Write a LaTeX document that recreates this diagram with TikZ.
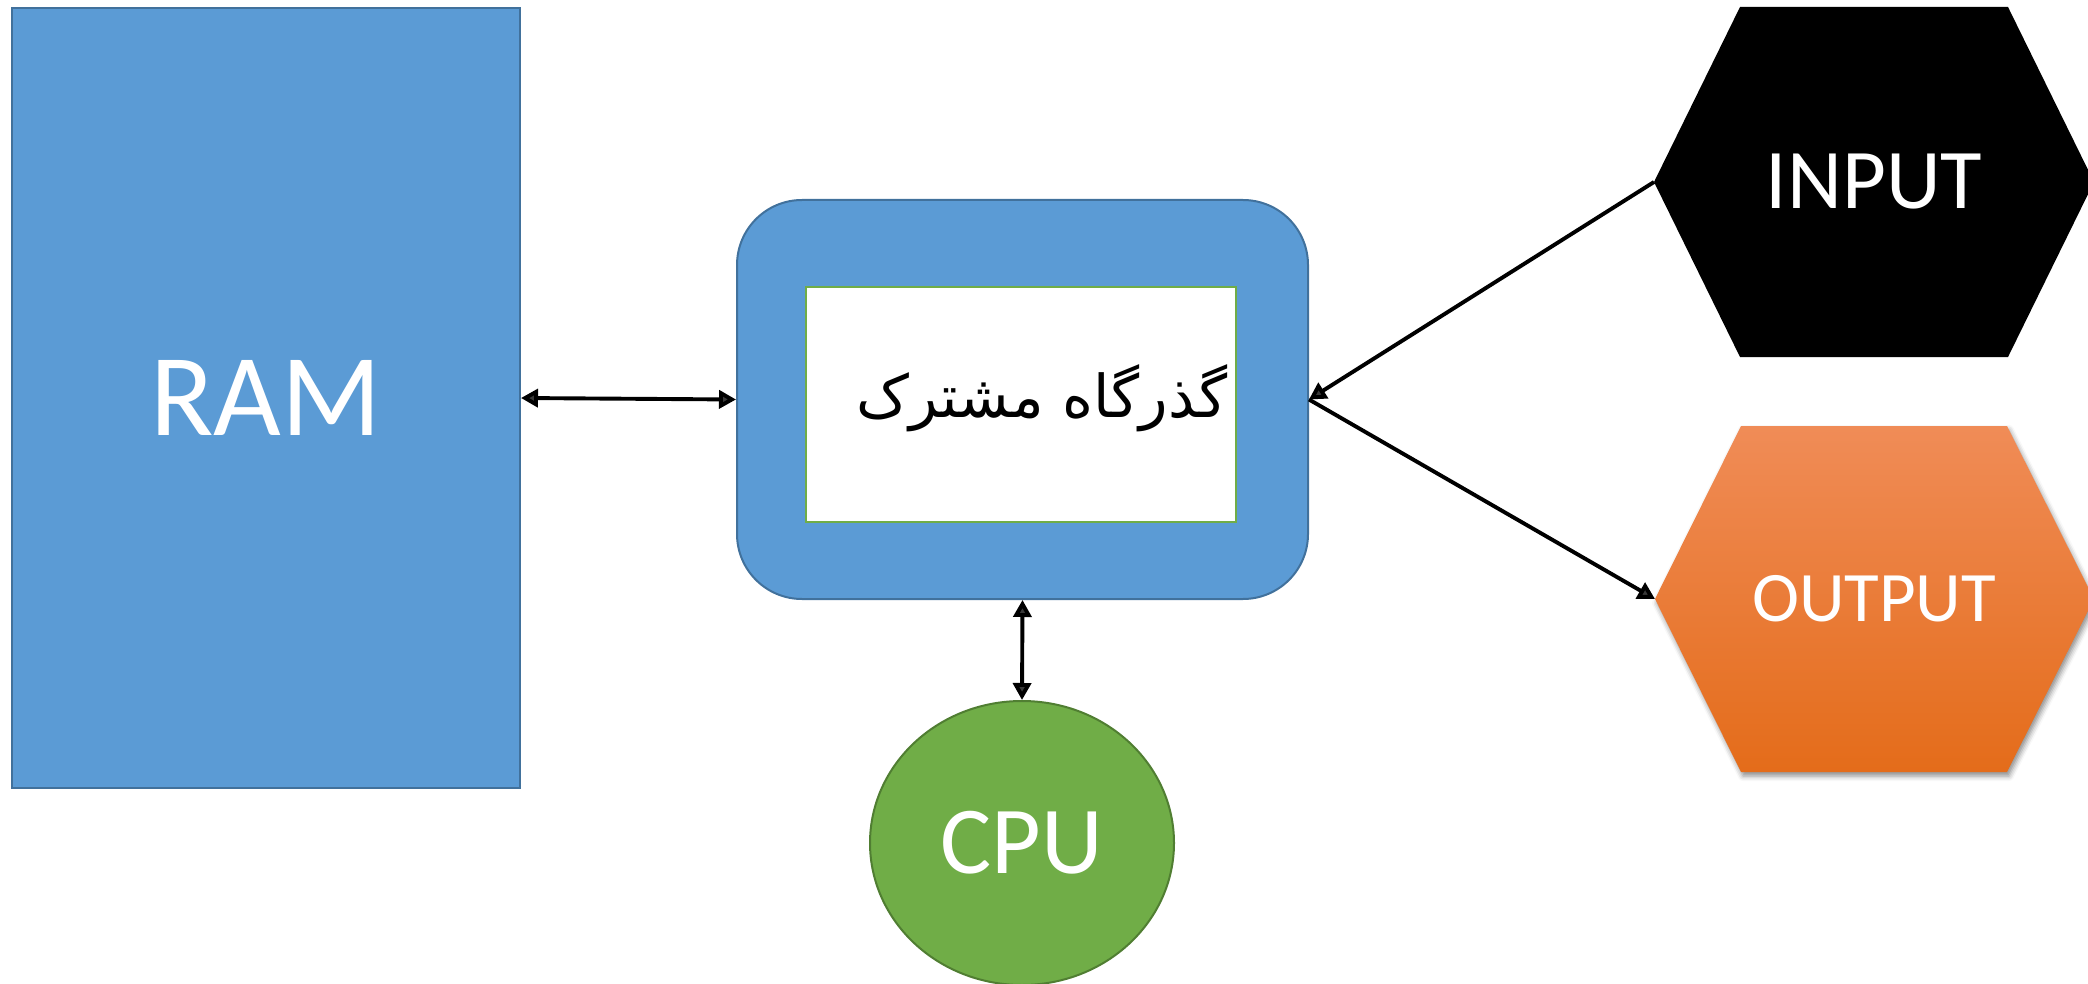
\documentclass[tikz,border=0pt]{standalone}
\usepackage{fontspec}
\usepackage{graphicx}
\setmainfont{Carlito}
\newfontfamily\arabicfont[Script=Arabic]{DejaVu Sans}
\TeXXeTstate=1
\usetikzlibrary{arrows.meta,shapes.geometric,shadows.blur}

\definecolor{boxblue}{HTML}{5B9BD5}
\definecolor{boxblueline}{HTML}{41719C}
\definecolor{cpugreen}{HTML}{70AD47}
\definecolor{cpugreenline}{HTML}{507E32}
\definecolor{outtop}{HTML}{F08C57}
\definecolor{outmid}{HTML}{F47F2F}
\definecolor{outbot}{HTML}{E46C1A}

\tikzset{
  whitetext/.style={text=white, font=\fontsize{#1}{#1}\selectfont},
  bluebox/.style={draw=boxblueline, fill=boxblue, line width=2pt, inner sep=0pt},
  twoway/.style={line width=3.9pt, {Triangle[length=17pt,width=18pt]}-{Triangle[length=17pt,width=18pt]}},
  oneway/.style={line width=3.9pt, -{Triangle[length=17pt,width=18pt]}},
}

\begin{document}
\begin{tikzpicture}[x=1pt,y=-1pt]
\useasboundingbox (0,0) rectangle (2088,984);

% memory block
\node[bluebox, minimum width=508pt, minimum height=780pt, whitetext=117] (ram) at (266,398) {RAM};

% shared bus
\node[bluebox, rounded corners=65pt, minimum width=571pt, minimum height=399pt] (bus) at (1022.5,399.5) {};
\node[draw=cpugreen, fill=white, line width=2pt, inner sep=0pt,
      minimum width=430pt, minimum height=235pt] (businner) at (1021,404.5) {};
\node[inner sep=0pt] (bustext) at (1042,398)
  {\resizebox{371pt}{!}{\arabicfont\beginR گذرگاه مشترک\endR}};

% processor
\node[ellipse, draw=cpugreenline, fill=cpugreen, line width=2pt, inner sep=0pt,
      minimum width=304pt, minimum height=284pt, whitetext=96] (cpu) at (1022,843) {CPU};

% input device
\fill[black] (1740,7) -- (2008,7) -- (2094,182) -- (2008,357) -- (1740,357) -- (1654,182) -- cycle;
\coordinate (inL) at (1654,182);
\node[whitetext=85] (input) at (1874,182) {INPUT};

% output device
\path[blur shadow={shadow xshift=2pt, shadow yshift=-4pt, shadow blur radius=5pt, shadow opacity=45},
      top color=outtop, middle color=outmid, bottom color=outbot]
  (1741,426) -- (2007,426) -- (2094,599) -- (2007,772) -- (1741,772) -- (1655,599) -- cycle;
\coordinate (outL) at (1655,599);
\node[whitetext=71] (output) at (1874,599) {OUTPUT};

% connections
\draw[twoway] (ram.east) -- (bus.west);
\draw[twoway] (bus.south) -- (cpu.north);
\draw[oneway] (inL) -- (bus.east);
\draw[oneway] (bus.east) -- (outL);
\end{tikzpicture}
\end{document}
